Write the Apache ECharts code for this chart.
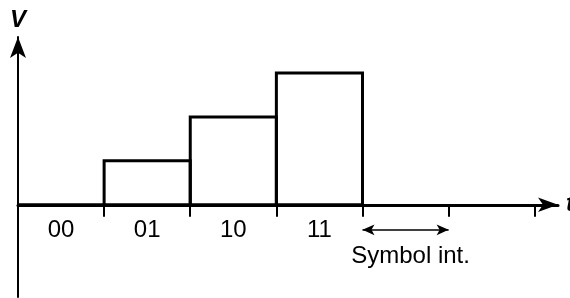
<!DOCTYPE html>
<html>
<head>
<meta charset="utf-8">
<script src="https://cdn.jsdelivr.net/npm/echarts@6/dist/echarts.min.js"></script>
<style>
  html, body { margin: 0; padding: 0; background: #fff; }
  #chart { width: 570px; height: 298px; }
</style>
</head>
<body>
<div id="chart"></div>
<script>
// symbol labels and their signal levels
var symbols = ['00', '01', '10', '11']
var levels = [0, 1, 2, 3]
// tick positions along t (symbol boundaries)
var tickValues = [0, 1, 2, 3, 4, 5, 6]
// "Symbol int." annotation: one symbol interval
var intervalStart = 4
var intervalEnd = 5
var intervalLevel = -0.57

var font = 'Liberation Sans, Arial, Helvetica, sans-serif'

var chart = echarts.init(document.getElementById('chart'))

var option = {
  animation: false,
  grid: { left: 18, right: 12, top: 37, bottom: 1, containLabel: false, outerBoundsMode: 'none' },
  xAxis: {
    type: 'value',
    min: 0,
    max: 6.27,
    name: 't',
    nameLocation: 'end',
    nameGap: 8,
    nameTextStyle: { color: '#000', fontFamily: font, fontSize: 24, fontStyle: 'italic', fontWeight: 'bold', verticalAlign: 'middle' },
    axisLine: {
      onZero: true,
      symbol: ['none', 'arrow'],
      symbolSize: [11, 20],
      lineStyle: { color: '#000', width: 3 }
    },
    axisTick: {
      show: true,
      length: 12,
      customValues: tickValues,
      lineStyle: { color: '#000', width: 2 }
    },
    axisLabel: { show: false },
    splitLine: { show: false }
  },
  yAxis: {
    type: 'value',
    min: -2.1,
    max: 3.82,
    name: 'V',
    nameLocation: 'end',
    nameGap: 5,
    nameTextStyle: { color: '#000', fontFamily: font, fontSize: 24, fontStyle: 'italic', fontWeight: 'bold' },
    axisLine: {
      show: true,
      onZero: true,
      symbol: ['none', 'arrow'],
      symbolSize: [12, 21],
      lineStyle: { color: '#000', width: 2 }
    },
    axisTick: { show: false },
    axisLabel: { show: false },
    splitLine: { show: false }
  },
  series: [
    {
      type: 'custom',
      data: symbols.map(function (s, i) { return [i, i + 1, levels[i]] }),
      renderItem: function (params, api) {
        var topLeft = api.coord([api.value(0), api.value(2)])
        var bottomRight = api.coord([api.value(1), 0])
        var mid = api.coord([(api.value(0) + api.value(1)) / 2, 0])
        return {
          type: 'group',
          children: [
            {
              type: 'rect',
              shape: {
                x: topLeft[0],
                y: topLeft[1],
                width: bottomRight[0] - topLeft[0],
                height: bottomRight[1] - topLeft[1]
              },
              style: { fill: 'none', stroke: '#000', lineWidth: 3 }
            },
            {
              type: 'text',
              style: {
                text: symbols[params.dataIndex],
                x: mid[0],
                y: mid[1] + 26,
                align: 'center',
                verticalAlign: 'middle',
                fill: '#000',
                fontFamily: font,
                fontSize: 24
              }
            }
          ]
        }
      },
      markLine: {
        silent: true,
        symbol: ['arrow', 'arrow'],
        symbolSize: [8, 12],
        lineStyle: { color: '#000', width: 1.5, type: 'solid' },
        label: {
          show: true,
          position: 'insideMiddleBottom',
          distance: 15,
          offset: [5, 0],
          formatter: 'Symbol int.',
          color: '#000',
          fontFamily: font,
          fontSize: 24
        },
        data: [[
          { coord: [intervalStart, intervalLevel] },
          { coord: [intervalEnd, intervalLevel] }
        ]]
      }
    }
  ]
}

chart.setOption(option)
</script>
</body>
</html>
